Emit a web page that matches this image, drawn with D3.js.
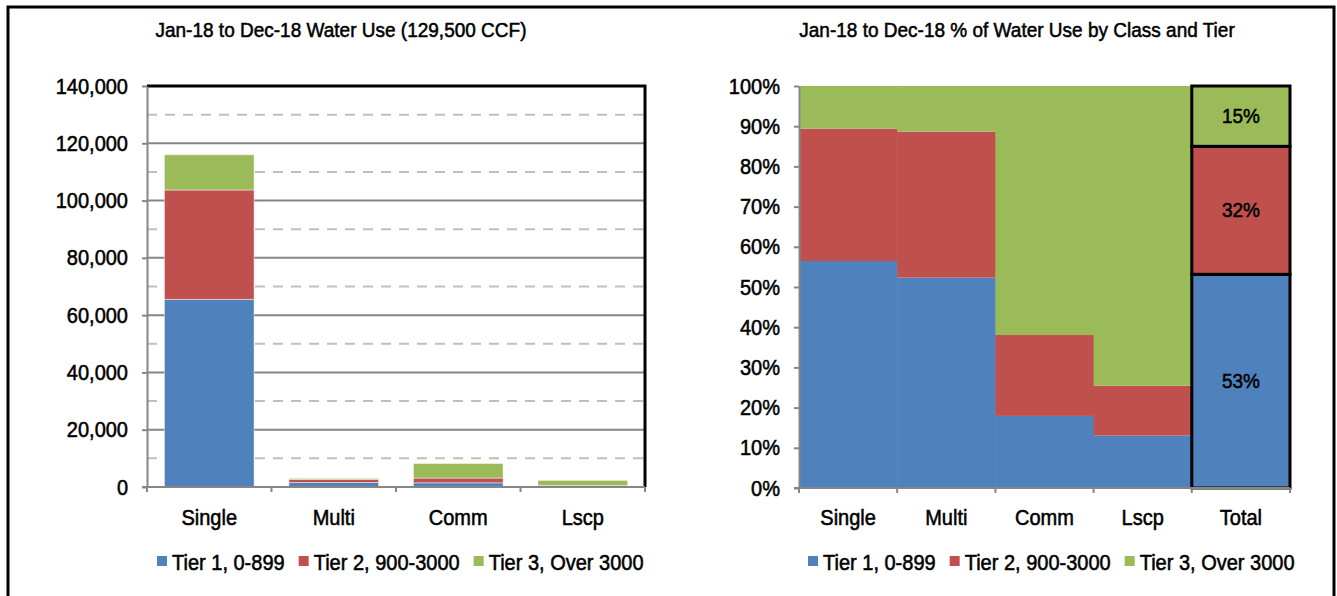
<!DOCTYPE html>
<html lang="en">
<head>
<meta charset="UTF-8">
<title>Water Use by Class and Tier</title>
<script src="https://d3js.org/d3.v7.min.js"></script>
<style>
  body { margin: 0; background: #fff; }
  svg { display: block; font-family: "Liberation Sans", Arial, sans-serif; }
  svg text { fill: #000; stroke: #000; stroke-width: 0.55px; }
</style>
</head>
<body>
<svg id="chart" width="1337" height="596"></svg>
<script>
  // classes and tiers
  var categories = ['Single', 'Multi', 'Comm', 'Lscp'];
  var tierNames = ['Tier 1, 0-899', 'Tier 2, 900-3000', 'Tier 3, Over 3000'];
  var tierColors = ['#4F81BD', '#C0504D', '#9BBB59'];

  // CCF per class
  var tier1 = [65500, 1570, 1470, 300];
  var tier2 = [38200, 1090, 1650, 285];
  var tier3 = [12300, 340, 5080, 1715];

  var leftTitle = 'Jan-18 to Dec-18 Water Use (129,500 CCF)';
  var rightTitle = 'Jan-18 to Dec-18 % of Water Use by Class and Tier';
  var totalLabel = 'Total';
  var volumeTicks = [0, 20000, 40000, 60000, 80000, 100000, 120000, 140000];
  var volumeMinorTicks = [10000, 30000, 50000, 70000, 90000, 110000, 130000];
  var percentTicks = [0, 0.1, 0.2, 0.3, 0.4, 0.5, 0.6, 0.7, 0.8, 0.9, 1];

  var keys = ['t1', 't2', 't3'];
  var rows = categories.map(function (c, i) {
    return { name: c, t1: tier1[i], t2: tier2[i], t3: tier3[i] };
  });
  var totalRow = { name: totalLabel, t1: d3.sum(tier1), t2: d3.sum(tier2), t3: d3.sum(tier3) };

  var svg = d3.select('#chart');
  var axisGray = '#868686';

  // outer frame
  svg.append('rect')
    .attr('x', 8).attr('y', 7).attr('width', 1326).attr('height', 600)
    .attr('fill', 'none').attr('stroke', '#000').attr('stroke-width', 3);

  /** LEFT: stacked volumes */
  var L = { left: 147, right: 645, top: 86, bottom: 487 };

  var xL = d3.scaleBand().domain(categories).range([L.left, L.right])
    .paddingInner(0.28).paddingOuter(0.14);
  var yL = d3.scaleLinear().domain([0, 140000]).range([L.bottom, L.top]);

  var left = svg.append('g').classed('left_chart', true);

  left.append('text')
    .attr('x', (L.left + L.right) / 2 - 55).attr('y', 37)
    .attr('text-anchor', 'middle').attr('font-size', 19)
    .text(leftTitle);

  // minor dashed grid
  left.append('g').selectAll('line').data(volumeMinorTicks).enter().append('line')
    .attr('x1', L.left).attr('x2', L.right)
    .attr('y1', function (d) { return yL(d); }).attr('y2', function (d) { return yL(d); })
    .attr('stroke', '#BFBFBF').attr('stroke-width', 2).attr('stroke-dasharray', '10,8');

  // major solid grid
  left.append('g').selectAll('line').data(volumeTicks.slice(1, -1)).enter().append('line')
    .attr('x1', L.left).attr('x2', L.right)
    .attr('y1', function (d) { return yL(d); }).attr('y2', function (d) { return yL(d); })
    .attr('stroke', axisGray).attr('stroke-width', 2);

  var stackL = d3.stack().keys(keys)(rows);
  left.append('g').selectAll('g').data(stackL).enter().append('g')
    .attr('fill', function (s, i) { return tierColors[i]; })
    .selectAll('rect').data(function (s) { return s; }).enter().append('rect')
    .attr('x', function (d) { return xL(d.data.name); })
    .attr('width', xL.bandwidth())
    .attr('y', function (d) { return yL(d[1]); })
    .attr('height', function (d) { return yL(d[0]) - yL(d[1]); })
    .attr('stroke', 'rgba(255,255,255,0.45)').attr('stroke-width', 1);

  // black top and right border
  left.append('path')
    .attr('d', 'M' + L.left + ',' + L.top + 'H' + L.right + 'V' + L.bottom)
    .attr('fill', 'none').attr('stroke', '#000').attr('stroke-width', 3);

  left.append('g')
    .attr('transform', 'translate(' + L.left + ',0)')
    .call(d3.axisLeft(yL).tickValues(volumeTicks).tickSize(5).tickSizeOuter(0).tickPadding(14)
      .tickFormat(d3.format(',')));

  var stepL = xL.step();
  var xAxisL = left.append('g');
  xAxisL.append('line')
    .attr('x1', L.left - 5).attr('x2', L.right).attr('y1', L.bottom).attr('y2', L.bottom)
    .attr('stroke', axisGray).attr('stroke-width', 2);
  xAxisL.selectAll('line.tick').data(d3.range(categories.length + 1)).enter().append('line')
    .attr('class', 'tick')
    .attr('x1', function (i) { return L.left + i * stepL; })
    .attr('x2', function (i) { return L.left + i * stepL; })
    .attr('y1', L.bottom).attr('y2', L.bottom + 5)
    .attr('stroke', axisGray).attr('stroke-width', 2);
  xAxisL.selectAll('text').data(categories).enter().append('text')
    .attr('x', function (d) { return xL(d) + xL.bandwidth() / 2; })
    .attr('y', L.bottom + 38)
    .attr('text-anchor', 'middle').attr('font-size', 20)
    .text(function (d) { return d; });

  /** RIGHT: share of each class by tier */
  var R = { left: 799, right: 1290, top: 86, bottom: 488 };
  var rightCats = categories.concat([totalLabel]);
  var xR = d3.scaleBand().domain(rightCats).range([R.left, R.right]).padding(0);
  var yR = d3.scaleLinear().domain([0, 1]).range([R.bottom, R.top]);

  var right = svg.append('g').classed('right_chart', true);

  right.append('text')
    .attr('x', 1017).attr('y', 37)
    .attr('text-anchor', 'middle').attr('font-size', 19)
    .text(rightTitle);

  var stackR = d3.stack().keys(keys).offset(d3.stackOffsetExpand)(rows.concat([totalRow]));

  right.append('g').selectAll('g').data(stackR).enter().append('g')
    .attr('fill', function (s, i) { return tierColors[i]; })
    .selectAll('rect').data(function (s) { return s.filter(function (d) { return d.data.name !== totalLabel; }); })
    .enter().append('rect')
    .attr('x', function (d) { return xR(d.data.name); })
    .attr('width', xR.bandwidth() + 0.5)
    .attr('y', function (d) { return yR(d[1]); })
    .attr('height', function (d) { return yR(d[0]) - yR(d[1]); });

  // total column with black outlines and value labels
  var totalSegs = stackR.map(function (s, i) {
    var d = s[s.length - 1];
    return { lo: d[0], hi: d[1], color: tierColors[i] };
  });
  var totalG = right.append('g');
  totalG.selectAll('rect').data(totalSegs).enter().append('rect')
    .attr('x', xR(totalLabel)).attr('width', xR.bandwidth())
    .attr('y', function (d) { return yR(d.hi); })
    .attr('height', function (d) { return yR(d.lo) - yR(d.hi); })
    .attr('fill', function (d) { return d.color; })
    .attr('stroke', '#000').attr('stroke-width', 3);
  totalG.selectAll('text').data(totalSegs).enter().append('text')
    .attr('x', xR(totalLabel) + xR.bandwidth() / 2)
    .attr('y', function (d) { return (yR(d.lo) + yR(d.hi)) / 2 + 7; })
    .attr('text-anchor', 'middle').attr('font-size', 19)
    .text(function (d) { return d3.format('.0%')(d.hi - d.lo); });

  right.append('g')
    .attr('transform', 'translate(' + R.left + ',0)')
    .call(d3.axisLeft(yR).tickValues(percentTicks).tickSize(5).tickSizeOuter(0).tickPadding(14)
      .tickFormat(d3.format('.0%')));

  var stepR = xR.step();
  var xAxisR = right.append('g');
  xAxisR.append('line')
    .attr('x1', R.left - 5).attr('x2', R.right).attr('y1', R.bottom).attr('y2', R.bottom)
    .attr('stroke', axisGray).attr('stroke-width', 2);
  xAxisR.selectAll('line.tick').data(d3.range(rightCats.length + 1)).enter().append('line')
    .attr('class', 'tick')
    .attr('x1', function (i) { return R.left + i * stepR; })
    .attr('x2', function (i) { return R.left + i * stepR; })
    .attr('y1', R.bottom).attr('y2', R.bottom + 5)
    .attr('stroke', axisGray).attr('stroke-width', 2);
  xAxisR.selectAll('text').data(rightCats).enter().append('text')
    .attr('x', function (d) { return xR(d) + xR.bandwidth() / 2; })
    .attr('y', R.bottom + 37)
    .attr('text-anchor', 'middle').attr('font-size', 20)
    .text(function (d) { return d; });

  // style both y axes like the Excel originals
  svg.selectAll('.domain').attr('stroke', axisGray).attr('stroke-width', 2);
  svg.selectAll('.tick line').attr('stroke', axisGray).attr('stroke-width', 2);
  svg.selectAll('.tick text').attr('font-size', 20).attr('font-family', null).attr('fill', null);

  /** legends: square + label, laid out one after another */
  function buildLegend(x0, y0) {
    var g = svg.append('g').attr('transform', 'translate(' + x0 + ',' + y0 + ')');
    var cursor = 0;
    tierNames.forEach(function (name, i) {
      g.append('rect').attr('x', cursor).attr('y', -14).attr('width', 10).attr('height', 10)
        .attr('fill', tierColors[i]);
      var t = g.append('text').attr('x', cursor + 15).attr('y', 0)
        .attr('font-size', 20).text(name);
      cursor += 15 + t.node().getComputedTextLength() + 14;
    });
  }
  buildLegend(157, 570);
  buildLegend(808, 570);

  /** the original uses a tall condensed face: enlarge every text a bit,
   *  then squeeze it back to its former width */
  var grow = 1.1;
  svg.selectAll('text').each(function () {
    var node = d3.select(this);
    var w = this.getComputedTextLength();
    var fs = parseFloat(node.attr('font-size') || window.getComputedStyle(this).fontSize);
    node.attr('font-size', fs * grow)
      .attr('textLength', w)
      .attr('lengthAdjust', 'spacingAndGlyphs');
  });
</script>
</body>
</html>
